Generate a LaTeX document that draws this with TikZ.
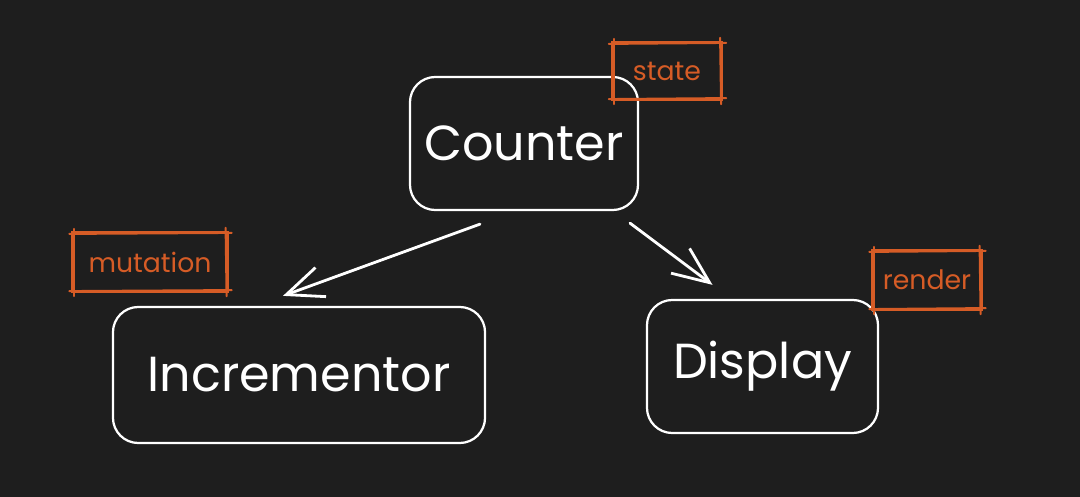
\documentclass[tikz,border=0pt]{standalone}
\usepackage{fontspec}
\setmainfont{Poppins}
\usetikzlibrary{arrows.meta,positioning,calc}
\definecolor{boardbg}{RGB}{30,30,30}
\definecolor{tagorange}{RGB}{214,92,38}

% second, offset stroke round a tag, ends running past the corners
\newcommand{\roughbox}[1]{%
  \draw[tagstroke] ($(#1.north west)+(-2,3)$) -- ($(#1.north east)+(3,2)$);
  \draw[tagstroke] ($(#1.north east)+(-3,-3)$) -- ($(#1.south east)+(-2,3)$);
  \draw[tagstroke] ($(#1.south east)+(3,-3)$) -- ($(#1.south west)+(-2,-2)$);
  \draw[tagstroke] ($(#1.south west)+(3,3)$) -- ($(#1.north west)+(3,-2)$);
}

\begin{document}
\begin{tikzpicture}[
    x=0.025cm, y=-0.025cm,
    every node/.style={text=white},
    comp/.style={draw=white, line width=1.6pt, rounded corners=18pt,
        font=\fontsize{35}{40}\selectfont, inner sep=0pt},
    tag/.style={draw=tagorange, line width=1.6pt, text=tagorange,
        font=\fontsize{19}{22}\selectfont, inner sep=0pt},
    tagstroke/.style={draw=tagorange, line width=1.5pt, line cap=round},
    flow/.style={draw=white, line width=2pt, line cap=round,
        -{Straight Barb[length=26pt, width=22pt, line width=2pt]}}
]
% board
\fill[boardbg] (0,0) rectangle (1080,497);
\useasboundingbox (0,0) rectangle (1080,497);

% components
\node[comp, minimum width=5.7cm, minimum height=3.325cm] (counter) at (524,143.5) {Counter};
\node[comp, minimum width=9.3cm, minimum height=3.4cm] (incr) at (299,375) {Incrementor};
\node[comp, minimum width=5.775cm, minimum height=3.325cm] (display) at (762.5,366.5) {Display};

% tags
\node[tag, minimum width=2.75cm, minimum height=1.45cm] (statetag) at (667,71) {state};
\node[tag, minimum width=3.875cm, minimum height=1.5cm] (mutationtag) at (150,262) {mutation};
\node[tag, minimum width=2.725cm, minimum height=1.5cm] (rendertag) at (927,280) {render};
\roughbox{statetag}
\roughbox{mutationtag}
\roughbox{rendertag}

% data flow
\draw[flow] ($(counter.south)+(-44,13)$) -- ($(incr.north)+(-16,-10)$);
\draw[flow] ($(counter.south)+(106,12)$) -- ($(display.north)+(-50,-14)$);
\end{tikzpicture}
\end{document}
